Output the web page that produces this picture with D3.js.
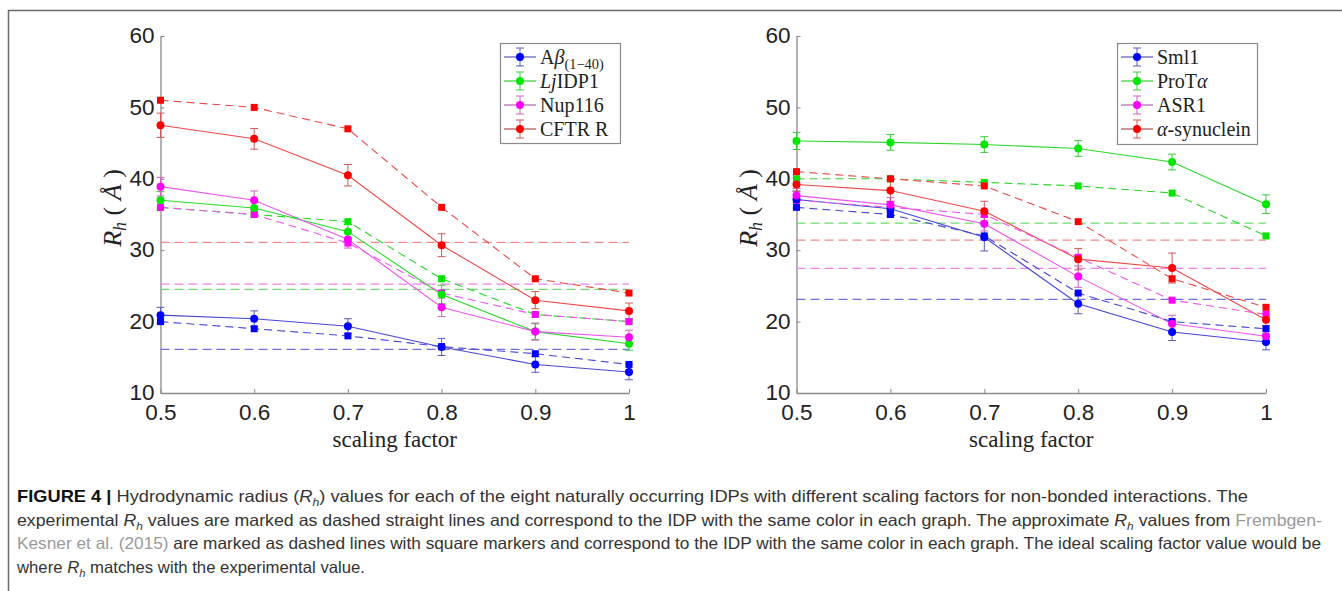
<!DOCTYPE html>
<html>
<head>
<meta charset="utf-8">
<script src="https://cdn.jsdelivr.net/npm/d3@7"></script>
<style>
  html, body { margin: 0; padding: 0; background: #fff; }
  svg { display: block; }
</style>
</head>
<body>
<svg id="chart" width="1342" height="591"></svg>
<script>
// ---------------- DATA ----------------
const scalingFactors = [0.5, 0.6, 0.7, 0.8, 0.9, 1];
const xTickLabels = ["0.5", "0.6", "0.7", "0.8", "0.9", "1"];
const yTickValues = [10, 20, 30, 40, 50, 60];

// Left panel
const abetaRh  = [20.9, 20.4, 19.35, 16.45, 14.0, 12.95];
const abetaErr = [1.1, 1.1, 1.05, 1.2, 1.1, 1.1];
const abetaRef = [20, 19, 18, 16.5, 15.5, 14];
const abetaExp = 16.1;

const ljRh  = [37.0, 35.9, 32.6, 23.8, 18.6, 16.9];
const ljErr = [1.2, 1.0, 1.0, 1.3, 1.1, 0.9];
const ljRef = [36, 35, 34, 26, 21, 20];
const ljExp = 24.5;

const nupRh  = [38.9, 37.0, 31.5, 22.0, 18.6, 17.8];
const nupErr = [1.3, 1.3, 1.2, 1.3, 1.2, 1.0];
const nupRef = [36, 35, 31, 24, 21, 20];
const nupExp = 25.25;

const cftrRh  = [47.5, 45.6, 40.5, 30.7, 23.0, 21.5];
const cftrErr = [1.7, 1.45, 1.5, 1.6, 1.2, 1.1];
const cftrRef = [51, 50, 47, 36, 26, 24];
const cftrExp = 31.1;

// Right panel
const sml1Rh  = [37.1, 35.8, 31.8, 22.5, 18.55, 17.15];
const sml1Err = [1.2, 1.0, 1.9, 1.4, 1.2, 1.1];
const sml1Ref = [36, 35, 32, 24, 20, 19];
const sml1Exp = 23.1;

const protRh  = [45.3, 45.1, 44.8, 44.25, 42.35, 36.45];
const protErr = [1.2, 1.1, 1.1, 1.1, 1.1, 1.3];
const protRef = [40, 40, 39.5, 39, 38, 32];
const protExp = 33.8;

const asrRh  = [37.65, 36.35, 33.7, 26.3, 19.7, 17.95];
const asrErr = [1.0, 1.0, 1.0, 1.5, 1.2, 1.0];
const asrRef = [37, 36, 35, 29, 23, 21];
const asrExp = 27.45;

const synRh  = [39.2, 38.35, 35.45, 28.75, 27.5, 20.25];
const synErr = [1.0, 1.5, 1.4, 1.5, 2.1, 0.8];
const synRef = [41, 40, 39, 34, 26, 22];
const synExp = 31.4;

// legend label pieces: [text, style]
const leftLabels = [
  [["A", ""], ["β", "it"], ["(1−40)", "sub"]],
  [["Lj", "it"], ["IDP1", ""]],
  [["Nup116", ""]],
  [["CFTR R", ""]]
];
const rightLabels = [
  [["Sml1", ""]],
  [["ProT", ""], ["α", "it"]],
  [["ASR1", ""]],
  [["α", "it"], ["-synuclein", ""]]
];

// ---------------- STYLE ----------------
const markerColors = ["#0000ff", "#00e600", "#ff00ff", "#ff0000"];
const lineColors   = ["#4646d2", "#2ad82a", "#ee55ee", "#ec4848"];
const errColors    = ["#5a5ab4", "#3cc83c", "#d060c0", "#cc5a5a"];
const expColors    = ["#7070dd", "#70d870", "#ee80ee", "#f28a8a"];
const legendLineColors = ["#4a4ab8", "#22cc22", "#b050b0", "#a84040"];

const leftPanel = {
  xRange: [160.5, 629],
  series: [
    {rh: abetaRh, err: abetaErr, ref: abetaRef, exp: abetaExp},
    {rh: ljRh, err: ljErr, ref: ljRef, exp: ljExp},
    {rh: nupRh, err: nupErr, ref: nupRef, exp: nupExp},
    {rh: cftrRh, err: cftrErr, ref: cftrRef, exp: cftrExp}
  ],
  labels: leftLabels,
  legend: {x: 500, y: 43, w: 120, h: 100},
  ylabelX: 121
};
const rightPanel = {
  xRange: [796.5, 1266],
  series: [
    {rh: sml1Rh, err: sml1Err, ref: sml1Ref, exp: sml1Exp},
    {rh: protRh, err: protErr, ref: protRef, exp: protExp},
    {rh: asrRh, err: asrErr, ref: asrRef, exp: asrExp},
    {rh: synRh, err: synErr, ref: synRef, exp: synExp}
  ],
  labels: rightLabels,
  legend: {x: 1117, y: 43, w: 140, h: 101},
  ylabelX: 757
};

const svg = d3.select("#chart");
svg.append("rect").attr("width", 1342).attr("height", 591).attr("fill", "#fff");

// frame
svg.append("line").attr("x1", 8).attr("x2", 1342).attr("y1", 10.5).attr("y2", 10.5)
  .attr("stroke", "#6a6a6a").attr("stroke-width", 1.5);
svg.append("line").attr("x1", 8.5).attr("x2", 8.5).attr("y1", 10).attr("y2", 591)
  .attr("stroke", "#6a6a6a").attr("stroke-width", 1.5);

const yRange = [393, 36];
const serif = "'Liberation Serif', 'Times New Roman', serif";
const sans = "'Liberation Sans', Arial, Helvetica, sans-serif";

function addRich(textSel, parts, baseSize) {
  parts.forEach(([t, st]) => {
    const ts = textSel.append("tspan").text(t);
    if (st === "it") ts.attr("font-style", "italic");
    if (st === "sub") {
      ts.attr("font-size", baseSize * 0.72).attr("dy", baseSize * 0.28);
    }
  });
}

function drawPanel(p) {
  const x = d3.scaleLinear().domain([0.5, 1]).range(p.xRange);
  const y = d3.scaleLinear().domain([10, 60]).range(yRange);
  const g = svg.append("g");

  // axes
  const yAxis = d3.axisLeft(y).tickValues(yTickValues).tickSize(-4).tickSizeOuter(0).tickPadding(6);
  const xAxis = d3.axisBottom(x).tickValues(scalingFactors).tickSize(-4).tickSizeOuter(0).tickPadding(11)
    .tickFormat((d, i) => xTickLabels[i]);
  const ya = g.append("g").attr("transform", `translate(${p.xRange[0]},0)`).call(yAxis);
  const xa = g.append("g").attr("transform", `translate(0,${yRange[0]})`).call(xAxis);
  [ya, xa].forEach(a => {
    a.select(".domain").attr("stroke", "#8a8a8a").attr("stroke-width", 1.3);
    a.selectAll(".tick line").attr("stroke", "#8a8a8a");
    a.selectAll(".tick text").attr("font-family", sans).attr("font-size", 22.5).attr("fill", "#222");
  });
  ya.selectAll(".tick text").attr("dy", "0.3em");

  // axis labels
  g.append("text").attr("x", (p.xRange[0] + p.xRange[1]) / 2).attr("y", 447)
    .attr("text-anchor", "middle").attr("font-family", serif).attr("font-size", 23).attr("fill", "#222")
    .text("scaling factor");
  const yl = g.append("text").attr("transform", `translate(${p.ylabelX},208) rotate(-90)`)
    .attr("text-anchor", "middle").attr("font-family", serif).attr("font-size", 26).attr("fill", "#222");
  yl.append("tspan").attr("font-style", "italic").text("R");
  yl.append("tspan").attr("font-style", "italic").attr("font-size", 18).attr("dy", 5).text("h");
  yl.append("tspan").attr("dy", -5).text("  (");
  yl.append("tspan").attr("font-style", "italic").text(" Å ");
  yl.append("tspan").text(")");

  const plot = g.append("g");
  const line = d3.line().x((d, i) => x(scalingFactors[i])).y(d => y(d));

  // experimental horizontal lines
  p.series.forEach((s, k) => {
    plot.append("line")
      .attr("x1", x(0.5)).attr("x2", x(1)).attr("y1", y(s.exp)).attr("y2", y(s.exp))
      .attr("stroke", expColors[k]).attr("stroke-width", 1.2).attr("stroke-dasharray", "9,5");
  });

  // solid series with error bars
  p.series.forEach((s, k) => {
    plot.append("path").datum(s.rh).attr("d", line).attr("fill", "none")
      .attr("stroke", lineColors[k]).attr("stroke-width", 1.1);
    const eb = plot.append("g");
    s.rh.forEach((v, i) => {
      const cx = x(scalingFactors[i]);
      const y0 = y(v - s.err[i]), y1 = y(v + s.err[i]);
      eb.append("line").attr("x1", cx).attr("x2", cx).attr("y1", y0).attr("y2", y1)
        .attr("stroke", errColors[k]).attr("stroke-width", 1);
      [y0, y1].forEach(yy => eb.append("line").attr("x1", cx - 4).attr("x2", cx + 4)
        .attr("y1", yy).attr("y2", yy).attr("stroke", errColors[k]).attr("stroke-width", 1));
    });
  });

  // dashed reference series with squares
  p.series.forEach((s, k) => {
    plot.append("path").datum(s.ref).attr("d", line).attr("fill", "none")
      .attr("stroke", lineColors[k]).attr("stroke-width", 1.1).attr("stroke-dasharray", "8,5");
    plot.selectAll(null).data(s.ref).enter().append("rect")
      .attr("x", (d, i) => x(scalingFactors[i]) - 3.5).attr("y", d => y(d) - 3.5)
      .attr("width", 7).attr("height", 7).attr("fill", markerColors[k]);
  });

  // circles on top
  p.series.forEach((s, k) => {
    plot.selectAll(null).data(s.rh).enter().append("circle")
      .attr("cx", (d, i) => x(scalingFactors[i])).attr("cy", d => y(d)).attr("r", 4)
      .attr("fill", markerColors[k]);
  });

  // legend
  const L = p.legend;
  const lg = g.append("g");
  lg.append("rect").attr("x", L.x + 0.5).attr("y", L.y + 0.5).attr("width", L.w).attr("height", L.h)
    .attr("fill", "#fff").attr("stroke", "#8a8a8a").attr("stroke-width", 1.2);
  p.labels.forEach((parts, k) => {
    const ry = L.y + 14 + k * 24;
    const mx = L.x + 20;
    lg.append("line").attr("x1", L.x + 4).attr("x2", L.x + 36).attr("y1", ry).attr("y2", ry)
      .attr("stroke", legendLineColors[k]).attr("stroke-width", 1.1);
    lg.append("line").attr("x1", mx).attr("x2", mx).attr("y1", ry - 9).attr("y2", ry + 9)
      .attr("stroke", errColors[k]).attr("stroke-width", 1);
    [ry - 9, ry + 9].forEach(yy => lg.append("line").attr("x1", mx - 4).attr("x2", mx + 4)
      .attr("y1", yy).attr("y2", yy).attr("stroke", errColors[k]).attr("stroke-width", 1));
    lg.append("circle").attr("cx", mx).attr("cy", ry).attr("r", 4).attr("fill", markerColors[k]);
    const t = lg.append("text").attr("x", L.x + 40).attr("y", ry + 6.5)
      .attr("font-family", serif).attr("font-size", 20).attr("fill", "#222");
    addRich(t, parts, 20);
  });
}

drawPanel(leftPanel);
drawPanel(rightPanel);

// ---------------- CAPTION ----------------
const capLines = [
  {y: 502, len: 1231, parts: [["FIGURE 4 | ", "b"], ["Hydrodynamic radius (", ""], ["R", "i"], ["h", "s"], [") values for each of the eight naturally occurring IDPs with different scaling factors for non-bonded interactions. The", ""]]},
  {y: 525.5, len: 1305, parts: [["experimental ", ""], ["R", "i"], ["h", "s"], [" values are marked as dashed straight lines and correspond to the IDP with the same color in each graph. The approximate ", ""], ["R", "i"], ["h", "s"], [" values from ", ""], ["Frembgen-", "g"]]},
  {y: 549, len: 1304, parts: [["Kesner et al. (2015)", "g"], [" are marked as dashed lines with square markers and correspond to the IDP with the same color in each graph. The ideal scaling factor value would be", ""]]},
  {y: 572.5, len: 348, parts: [["where ", ""], ["R", "i"], ["h", "s"], [" matches with the experimental value.", ""]]}
];
const capFont = "'Liberation Sans Narrow', 'Liberation Sans', Arial, sans-serif";
capLines.forEach(cl => {
  const t = svg.append("text").attr("x", 17).attr("y", cl.y)
    .attr("font-family", capFont).attr("font-size", 16.5).attr("fill", "#333")
    .attr("textLength", cl.len).attr("lengthAdjust", "spacingAndGlyphs");
  let sub = false;
  cl.parts.forEach(([txt, st]) => {
    const ts = t.append("tspan").text(txt);
    if (sub) { ts.attr("dy", -4); sub = false; }
    if (st === "b") ts.attr("font-weight", "bold").attr("fill", "#111");
    if (st === "i") ts.attr("font-style", "italic");
    if (st === "g") ts.attr("fill", "#9a9a9a");
    if (st === "s") { ts.attr("font-style", "italic").attr("font-size", 11).attr("dy", 4); sub = true; }
  });
});
</script>
</body>
</html>
